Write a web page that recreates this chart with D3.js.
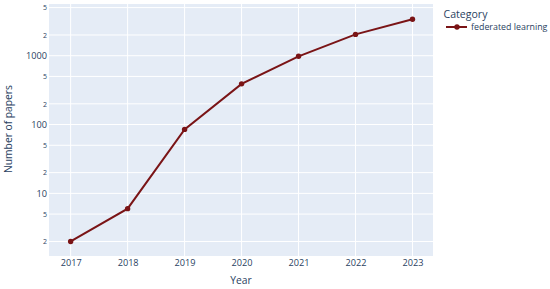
<!DOCTYPE html>
<html>
<head>
<meta charset="utf-8">
<script src="https://cdn.jsdelivr.net/npm/d3@7"></script>
<style>
  html, body { margin: 0; padding: 0; background: #fff; overflow: hidden; }
  svg { display: block; }
  text { font-family: "Open Sans", sans-serif; }
</style>
</head>
<body>
<svg id="chart" width="550" height="289"></svg>
<script>
const years = [2017, 2018, 2019, 2020, 2021, 2022, 2023];
const papers = [2, 6, 85, 390, 980, 2040, 3380];
const seriesName = "federated learning";
const yTickValues = [2, 5, 10, 20, 50, 100, 200, 500, 1000, 2000, 5000];
const yTickLabels = ["2", "5", "10", "2", "5", "100", "2", "5", "1000", "2", "5"];

(function () {
const svg = d3.select("#chart");
const pLeft = 49, pRight = 433, pTop = 4, pBottom = 256;
const textColor = "#2a3f5f";
const lineColor = "#7a1416";

// scale a text's font-size so that its rendered width matches a target width
function fitWidth(sel, target) {
  sel.each(function () {
    const el = this;
    el.style.fontSize = "10px";
    const w = el.getComputedTextLength();
    if (w > 0) el.style.fontSize = (10 * target / w).toFixed(2) + "px";
  });
}

const x = d3.scaleLinear().domain([2016.62, 2023.36]).range([pLeft, pRight]);
const y = d3.scaleLog().domain([1.23, 5640]).range([pBottom, pTop]);

svg.append("rect").attr("x", pLeft).attr("y", pTop)
  .attr("width", pRight - pLeft).attr("height", pBottom - pTop)
  .attr("fill", "#e5ecf6");

// grid
const g = svg.append("g");
g.selectAll(".vg").data(years).enter().append("line")
  .attr("x1", d => x(d)).attr("x2", d => x(d))
  .attr("y1", pTop).attr("y2", pBottom)
  .attr("stroke", "#fff").attr("stroke-width", 1);
g.selectAll(".hg").data(yTickValues).enter().append("line")
  .attr("x1", pLeft).attr("x2", pRight)
  .attr("y1", d => y(d)).attr("y2", d => y(d))
  .attr("stroke", "#fff").attr("stroke-width", 1);

// x axis
const xAxis = d3.axisBottom(x).tickValues(years).tickFormat(d3.format("d")).tickSize(0).tickPadding(3);
const xg = svg.append("g").attr("transform", `translate(0,${pBottom})`).call(xAxis);
xg.select(".domain").remove();
xg.selectAll("text").attr("fill", textColor).style("font-family", "'Open Sans', sans-serif");
fitWidth(xg.selectAll("text"), 21);

// y axis
const yAxis = d3.axisLeft(y).tickValues(yTickValues)
  .tickFormat((d, i) => yTickLabels[i]).tickSize(0).tickPadding(2);
const yg = svg.append("g").attr("transform", `translate(${pLeft},0)`).call(yAxis);
yg.select(".domain").remove();
yg.selectAll("text").attr("fill", textColor)
  .style("font-family", "'Open Sans', sans-serif")
  .style("font-size", (d, i) => (yTickLabels[i].length > 1 ? "9.2px" : "7px"));

// line
const line = d3.line().x((d, i) => x(years[i])).y(d => y(d));
svg.append("path").datum(papers).attr("d", line)
  .attr("fill", "none").attr("stroke", lineColor).attr("stroke-width", 2);
svg.selectAll(".pt").data(papers).enter().append("circle")
  .attr("cx", (d, i) => x(years[i])).attr("cy", d => y(d)).attr("r", 2.7)
  .attr("fill", lineColor);

// axis titles
const xt = svg.append("text").attr("x", (pLeft + pRight) / 2).attr("y", 280)
  .attr("dy", "0.35em")
  .attr("text-anchor", "middle").attr("fill", textColor).text("Year");
fitWidth(xt, 21.5);
const yt = svg.append("text").attr("transform", `translate(8,${(pTop + pBottom) / 2 - 1}) rotate(-90)`)
  .attr("dy", "0.35em")
  .attr("text-anchor", "middle").attr("fill", textColor).text("Number of papers");
fitWidth(yt, 88);

// legend
const lt = svg.append("text").attr("x", 443.5).attr("y", 14).attr("dy", "0.35em")
  .attr("fill", textColor).text("Category");
fitWidth(lt, 44);
svg.append("line").attr("x1", 446).attr("x2", 467).attr("y1", 27).attr("y2", 27)
  .attr("stroke", lineColor).attr("stroke-width", 2);
svg.append("circle").attr("cx", 457).attr("cy", 27).attr("r", 2.7).attr("fill", lineColor);
const li = svg.append("text").attr("x", 471).attr("y", 27).attr("dy", "0.35em")
  .attr("fill", textColor).text(seriesName);
fitWidth(li, 76.5);
})();
</script>
</body>
</html>
